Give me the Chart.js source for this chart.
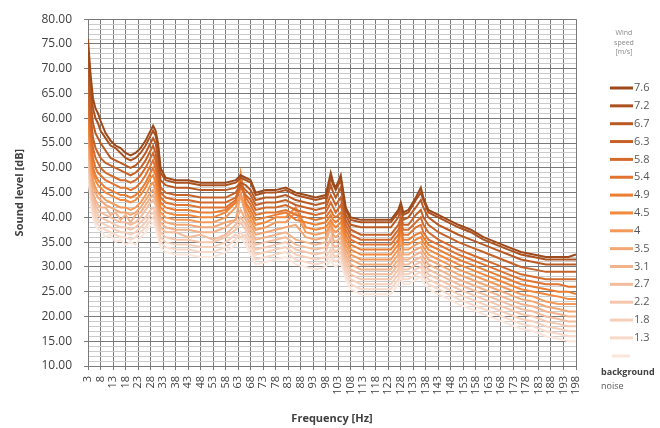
<!DOCTYPE html>
<html><head><meta charset="utf-8">
<script src="https://cdn.jsdelivr.net/npm/chart.js@4/dist/chart.umd.min.js"></script>
<style>html,body{margin:0;padding:0;background:#fff}#wrap{width:660px;height:428px;position:relative}</style>
</head><body><div id="wrap"><canvas id="c" width="660" height="428"></canvas></div>
<script>
// Frequency sample points [Hz]
const freqs = [3,4,5,6,7,8,10,12,14,16,18,20,22,24,26,28,29,30,31,32,34,38,43,48,53,58,62,64,66,68,70,74,78,82,86,90,94,98,100,101,102,104,106,108,112,118,124,127,128,129,131,134,136,137,139,143,147,151,156,161,166,171,176,181,186,191,195,198];
const xTickLabels = [3,8,13,18,23,28,33,38,43,48,53,58,63,68,73,78,83,88,93,98,103,108,113,118,123,128,133,138,143,148,153,158,163,168,173,178,183,188,193,198];
const seriesLabels = ['7.6','7.2','6.7','6.3','5.8','5.4','4.9','4.5','4','3.5','3.1','2.7','2.2','1.8','1.3','background noise'];
const legendTitle = ['Wind','speed','[m/s]'];

const s76 = [76,69,64,62,61,59.5,57,55.5,54.5,54,53,52.5,53,54,55.5,57.5,58.5,57.5,55,50,48,47.5,47.5,47,47,47,47.5,48.5,48,47.5,45,45.5,45.5,46,45,44.5,44,44.5,49,47,46,48.5,42,40,39.5,39.5,39.5,41.5,43,41,41.5,44,46,44,41.5,40.5,39.5,38.5,37.5,36,35,34,33,32.5,32,32,32,32.5];
const s72 = [73,67,62,60,59,57.5,56,54.5,54,53,52,51.5,52,53,54.5,56.5,57.5,56.5,54,49,47.5,47,47,46.5,46.5,46.5,47,48,47.5,47,44.5,45,45,45.5,44.5,44,43.5,44,48,46.5,45.5,47.5,41.5,39.5,39,39,39,41,42.5,40.5,41,43.5,45,43.5,41,40,39,38,37,35.5,34.5,33.5,32.5,32,31.5,31.5,31.5,31.5];
const s67 = [70,64,59,57,56,55,53.5,52,51.5,51,50.5,50,50.5,51.5,53,55,56,55,52,47.5,46.5,46,46,45.5,45.5,45.5,46,47,46.5,45.5,43.5,44,44,44.5,43.5,43,42.5,43,46.5,45,44,46,40.5,38.5,38,38,38,40,41.5,39.5,40,42,43.5,42,40,38.5,37.5,36.5,35.5,34.5,33.5,32.5,31.5,31,30.5,30.5,30.5,30.5];
const s63 = [67,61,56,54,53,52,51,50.5,50,49.5,49,48.5,49,50,51.5,53.5,54.5,53,50,46,45,44.5,44.5,44,44,44,45,46.5,45.5,44.5,42.5,43,43,43.5,42.5,42,41.5,42,44.5,43.5,42.5,44,39.5,37.5,36.5,36.5,36.5,38.5,40,38.5,38.5,40.5,41.5,40,38.5,37,36,35,34,33,32,31,30,29.5,29,29,29,29];
const s58 = [65,59,54,52,51,50,49,48.5,48,47.5,47.5,47,47.5,48.5,50,52,53,51.5,48.5,45,44,43.5,43.5,43,43,43,44,46,44.5,43.5,41.5,42,42,42.5,41.5,41,40.5,41,43,42,41,42.5,38.5,36.5,35.5,35.5,35.5,37.5,39,37.5,37.5,39,40,38.5,37,35.5,34.5,33.5,32.5,31.5,30.5,29.5,28.5,28,27.5,27.5,27.5,27.5];
const s54 = [63,57,52,50,49,48.5,47.5,47,46.5,46,46,45.5,46,47,48.5,50.5,51.5,50,47,44,43,42.5,42.5,42,42,42,43.5,47,44,42.5,40.5,41,41,41.5,40.5,40,39.5,40,41.5,40.5,40,41,37.5,35.5,34.5,34.5,34.5,36.5,38,36.5,36.5,38,38.5,37,35.5,34.5,33.5,32.5,31.5,30.5,29.5,28.5,27.5,27,26.5,26.5,26,26];
const s49 = [61,55,50,48.5,47.5,47,46,45.5,45,44.5,44.5,44,44.5,45.5,47,49,50,48.5,45.5,43,42,41.5,41.5,41,41,41.5,43,48,43,41.5,39.5,40,40.5,41,39.5,39,38.5,39,40.5,39.5,39,40,36.5,34.5,33.5,33.5,33.5,35.5,37,35.5,35.5,36.5,37,36,34.5,33.5,32.5,31.5,30.5,29.5,28.5,27.5,26.5,26,25.5,25,25,24.5];
const s45 = [60,54,49,47.5,46.5,46,45,44.5,44,43.5,43.5,43,43.5,44.5,46,48,48.5,47,44.5,42,41,40.5,40.5,40,40,41,43,49,42.5,40.5,38.5,39,40,40,42,38,37.5,38,39.5,38.5,38,39,35.5,33.5,32.5,32.5,32.5,34.5,39,34.5,34.5,35.5,36,35,33.5,32.5,31.5,30.5,29.5,28.5,27.5,26.5,25.5,25,24.5,24,23.5,23.5];
const s40 = [58,52,47.5,46,45,44.5,43.5,43,42.5,42,42,41.5,42,43,44.5,46.5,47,45.5,43,41,40,39.5,39.5,39,39,40,42,45,41.5,39.5,37.5,38,39,39,41,37,36.5,37,38.5,37.5,37,38,34.5,32.5,31.5,31.5,31.5,33.5,36,33.5,33.5,34.5,35,34,32.5,31.5,30.5,29.5,28.5,27.5,26.5,25.5,24.5,24,23,22.5,22.5,22.5];
const s35 = [57,51,46.5,45,44,43.5,42.5,42,41.5,41,41,40.5,41,42,43.5,45,45.5,44.5,42,40,39,38.5,38.5,38,38,39,39.5,44.5,40.5,38.5,36.5,37,37.5,38,38.5,36,35.5,36,39,36.5,36,37,33.5,31.5,30.5,30.5,30.5,32.5,36,32.5,32.5,33.5,34,33,31.5,30.5,29.5,28.5,27.5,26.5,25.5,24.5,23.5,23,22,21.5,21,21];
const s31 = [55,49.5,45,43.5,42.5,42,42,40.5,41,39.5,40.5,39,40.5,41,42.5,44,44.5,43.5,41,39,38,37.5,37.5,37,37,38,39.5,41.5,39.5,37.5,35.5,36,36.5,37,35.5,35,34.5,35,38,35.5,35,36,32.5,30.5,29.5,29.5,29.5,31.5,33,31.5,31.5,32.5,33,32,30.5,29.5,28.5,27.5,26.5,25.5,24.5,23.5,22.5,22,21,20.5,20,20];
const s27 = [54,48.5,44,42.5,41.5,41,40.5,40,39.5,39,39,38.5,39,40,41.5,43,43.5,42.5,40,38,37,37,36,36.5,35.5,36.5,38.5,40,38.5,36.5,34.5,35,35.5,36,34.5,34,33.5,34,35.5,34.5,34,35,31.5,29.5,28.5,28.5,28.5,30.5,32,30.5,30.5,31.5,32,31,29.5,28.5,27.5,26.5,25.5,24.5,23.5,22.5,21.5,21,20,19.5,19,19];
const s22 = [52,47,43,41.5,40.5,40,39.5,39,38.5,38,38,37.5,38,39,40,41.5,42,41,39,37,36,35.5,35.5,35,35,36,37.5,39,37.5,35.5,33.5,34,34.5,35,33.5,33,32.5,33,36,33.5,33,34,30.5,28.5,27.5,27.5,27.5,29.5,31,29.5,29.5,30.5,31,30,28.5,27.5,26.5,25.5,24.5,23.5,22.5,21.5,20.5,20,19,18.5,18,18];
const s18 = [51,46,42,40.5,39.5,39,38.5,38,37.5,37,37,36.5,37,38,39,40.5,41,40,38,36,35,34.5,34.5,34,34,35,36.5,36,36.5,34.5,32.5,33,33.5,34,32.5,32,31.5,32,33.5,32.5,32,33,29.5,27.5,26.5,26.5,26.5,28.5,30,28.5,28.5,29.5,30,29,27.5,26.5,25.5,24.5,23.5,22.5,21.5,20.5,19.5,19,18,17.5,17,17];
const s13 = [50,45,41,39.5,38.5,38,37.5,37,36.5,36,36,35.5,36,37,38,39.5,40,39,37,35,34,33.5,33.5,33,33,34,35.5,37,35.5,33.5,31.5,32,32.5,33,31.5,31,30.5,31,32.5,31.5,31,32,28.5,26.5,25.5,25.5,25.5,27.5,29,27.5,27.5,28.5,29,28,26.5,25.5,24.5,23.5,22.5,21.5,20.5,19.5,18.5,18,17,16.5,16,16];
const sBg = [48,44,40,38.5,37.5,37.5,36,36.5,35,35.5,34.5,35,34.5,36,37,38.5,39,38,36,34,33,32.5,32.5,32,32,33,34.5,36,34.5,32.5,30.5,31,31.5,32,30.5,30,29.5,30,31.5,30.5,30,31,27.5,25.5,24.5,24.5,24.5,26.5,28,26.5,26.5,27.5,28,27,25.5,24.5,23.5,22.5,21.5,20.5,19.5,18.5,17.5,17,16,15.5,15,15];

const seriesValues = [s76,s72,s67,s63,s58,s54,s49,s45,s40,s35,s31,s27,s22,s18,s13,sBg];
const seriesColors = ['#9c4a1c','#ab5220','#b95a24','#c66228','#d46b2c','#e07430','#ea7e34','#f3893c','#f39a5a','#f2a774','#f2b28a','#f3bc9c','#f5c6ac','#f6cfba','#f8d8c8','#fbe6dc'];

const FONT = '"Open Sans", "DejaVu Sans", sans-serif';

const datasets = seriesValues.map((vals, i) => ({
  label: seriesLabels[i],
  data: freqs.map((f, j) => ({x: f, y: vals[j]})),
  borderColor: seriesColors[i],
  backgroundColor: seriesColors[i],
  borderWidth: 2,
  pointRadius: 0,
  tension: 0,
  fill: false
}));

const sideLegend = {
  id: 'sideLegend',
  afterDraw(chart) {
    const ctx = chart.ctx;
    ctx.save();
    ctx.fillStyle = '#8a8a8a';
    ctx.font = '7px ' + FONT;
    ctx.textAlign = 'center';
    ctx.textBaseline = 'middle';
    legendTitle.forEach((t, i) => ctx.fillText(t, 624, 33 + i * 9.5));
    ctx.textAlign = 'left';
    chart.data.datasets.forEach((ds, i) => {
      ctx.strokeStyle = ds.borderColor;
      ctx.lineWidth = 3;
      if (i < seriesLabels.length - 1) {
        const y = 88 + i * 17.85;
        ctx.beginPath(); ctx.moveTo(610, y); ctx.lineTo(633, y); ctx.stroke();
        ctx.fillStyle = '#595959';
        ctx.font = '11px ' + FONT;
        ctx.fillText(ds.label, 634, y);
      } else {
        ctx.beginPath(); ctx.moveTo(612, 356); ctx.lineTo(630, 356); ctx.stroke();
        ctx.fillStyle = '#404040';
        ctx.font = 'bold 9px ' + FONT;
        const parts = ds.label.split(' ');
        ctx.fillText(parts[0], 601, 372);
        ctx.font = '9px ' + FONT;
        ctx.fillStyle = '#595959';
        ctx.fillText(parts[1], 601, 386);
      }
    });
    ctx.restore();
  }
};

new Chart(document.getElementById('c'), {
  type: 'line',
  data: { datasets },
  options: {
    responsive: false,
    animation: false,
    devicePixelRatio: 1,
    layout: { padding: { left: 0, right: 84, top: 16, bottom: 0 } },
    plugins: { legend: { display: false }, tooltip: { enabled: false } },
    scales: {
      x: {
        type: 'linear',
        min: 3, max: 198,
        afterBuildTicks: s => { s.ticks = xTickLabels.map(v => ({ value: v })); },
        afterFit: s => { s.height = 62; },
        ticks: { autoSkip: false, maxRotation: 90, minRotation: 90, color: '#404040', padding: 6,
          font: { family: FONT, size: 11 }, callback: v => String(v) },
        grid: { color: '#7a7a7a', lineWidth: 1, tickLength: 4, tickColor: '#7a7a7a' },
        border: { color: '#7a7a7a' },
        title: { display: true, text: 'Frequency [Hz]', color: '#404040',
          font: { family: FONT, size: 11, weight: 'bold' }, padding: { top: 0, bottom: 3 } }
      },
      y: {
        min: 10, max: 80,
        afterFit: s => { s.width = 88; },
        ticks: { stepSize: 1, autoSkip: false, color: '#404040', padding: 12,
          font: { family: FONT, size: 12 },
          callback: v => (v % 5 === 0 ? Number(v).toFixed(2) : '') },
        grid: {
          color: c => (c.tick && c.tick.value % 5 === 0 ? '#7a7a7a' : '#cacaca'),
          tickColor: c => (c.tick && c.tick.value % 5 === 0 ? '#7a7a7a' : 'rgba(0,0,0,0)'),
          lineWidth: 1, tickLength: 4
        },
        border: { color: '#7a7a7a' },
        title: { display: true, text: 'Sound level [dB]', color: '#404040',
          font: { family: FONT, size: 11, weight: 'bold' }, padding: { top: 13, bottom: 0 } }
      }
    }
  },
  plugins: [sideLegend]
});
</script>
</body></html>
